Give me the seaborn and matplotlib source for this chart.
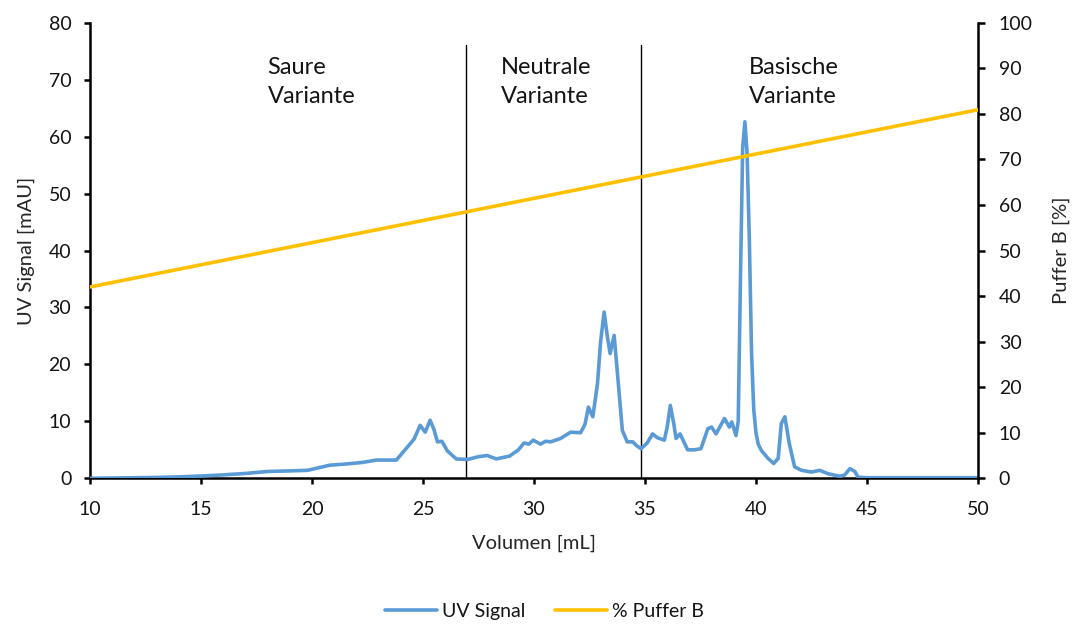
import matplotlib
matplotlib.use("Agg")
import matplotlib.pyplot as plt
import seaborn as sns
import pandas as pd
from matplotlib.lines import Line2D

# ---- data ----
volume_ml = [10, 11, 12, 13, 14, 15, 16, 17, 18, 19,
             19.8, 20.8, 21.5, 22.3, 22.9, 23.3, 23.8, 24.3, 24.6, 24.87,
             25.1, 25.32, 25.5, 25.65, 25.85, 26.1, 26.5, 27.0, 27.5, 27.9,
             28.3, 28.9, 29.3, 29.55, 29.77, 29.96, 30.3, 30.52, 30.75, 31.2,
             31.65, 32.1, 32.3, 32.45, 32.65, 32.86, 33.0, 33.16, 33.3, 33.43,
             33.61, 33.76, 33.98, 34.2, 34.45, 34.6, 34.82, 35.1, 35.34, 35.57,
             35.87, 36.0, 36.14, 36.3, 36.4, 36.58, 36.92, 37.22, 37.52, 37.83,
             38.0, 38.2, 38.58, 38.8, 38.91, 39.1, 39.2, 39.3, 39.4, 39.5,
             39.6, 39.7, 39.8, 39.9, 40.0, 40.1, 40.24, 40.54, 40.8, 41.0, 41.14,
             41.3, 41.5, 41.74, 42.05, 42.5, 42.87, 43.25, 43.78, 44.0, 44.23,
             44.45, 44.6, 45.0, 46, 48, 50]
uv_signal = [0, 0.05, 0.1, 0.15, 0.25, 0.4, 0.6, 0.85, 1.2, 1.3,
             1.4, 2.3, 2.5, 2.8, 3.2, 3.2, 3.2, 5.5, 6.9, 9.3,
             8.1, 10.2, 8.5, 6.4, 6.5, 4.8, 3.4, 3.3, 3.8, 4.0,
             3.4, 3.9, 5.0, 6.2, 6.0, 6.7, 6.0, 6.5, 6.4, 7.0,
             8.1, 8.0, 9.5, 12.5, 10.8, 16.6, 24, 29.2, 25, 21.9,
             25.1, 18.4, 8.4, 6.4, 6.4, 5.8, 5.2, 6.2, 7.8, 7.1,
             6.7, 9.0, 12.8, 9.5, 7.0, 7.8, 5.0, 5.0, 5.2, 8.7,
             9.0, 7.8, 10.5, 9.0, 9.9, 7.5, 10.0, 35, 58, 62.6,
             57, 42, 22, 12, 8.0, 6.0, 4.9, 3.5, 2.6, 3.5, 9.6,
             10.8, 6.1, 2.0, 1.4, 1.1, 1.4, 0.8, 0.35, 0.6, 1.7,
             1.2, 0.2, 0.1, 0.1, 0.1, 0.1]

puffer_volume = [10, 50]
puffer_b = [42.0, 80.9]

fraction_borders = [26.95, 34.8]
fraction_labels = ["Saure\nVariante", "Neutrale\nVariante", "Basische\nVariante"]
fraction_label_x = [18.0, 28.5, 39.7]

x_ticks = [10, 15, 20, 25, 30, 35, 40, 45, 50]
left_ticks = [0, 10, 20, 30, 40, 50, 60, 70, 80]
right_ticks = [0, 10, 20, 30, 40, 50, 60, 70, 80, 90, 100]

# ---- style ----
sns.set_style("white")
plt.rcParams["font.family"] = ["Lato", "DejaVu Sans"]
plt.rcParams["text.color"] = "#141414"

UV_COLOR = "#5B9BD5"
PB_COLOR = "#FFC000"

fig = plt.figure(figsize=(10.74, 6.24), dpi=100)
ax = fig.add_axes([0.0838, 0.2335, 0.9106 - 0.0838, 0.9636 - 0.2335])
ax2 = ax.twinx()

uv_df = pd.DataFrame({"Volumen": volume_ml, "UV": uv_signal})
pb_df = pd.DataFrame({"Volumen": puffer_volume, "PB": puffer_b})

sns.lineplot(data=uv_df, x="Volumen", y="UV", ax=ax, color=UV_COLOR,
             linewidth=2.6, solid_joinstyle="round", solid_capstyle="round",
             zorder=3)
sns.lineplot(data=pb_df, x="Volumen", y="PB", ax=ax2, color=PB_COLOR,
             linewidth=2.6, zorder=3)

ax.set_xlim(10, 50)
ax.set_ylim(0, 80)
ax2.set_ylim(0, 100)
ax.set_xticks(x_ticks)
ax.set_yticks(left_ticks)
ax2.set_yticks(right_ticks)

for b in fraction_borders:
    ax.plot([b, b], [0, 76], color="black", linewidth=1.0, zorder=2)

for lbl, xx in zip(fraction_labels, fraction_label_x):
    ax.text(xx, 69.6, lbl, ha="left", va="center", fontsize=17,
            linespacing=1.5, multialignment="left", color="#141414")

for a in (ax, ax2):
    for s in a.spines.values():
        s.set_visible(False)
    a.grid(False)

ax.spines["left"].set_visible(True)
ax.spines["bottom"].set_visible(True)
ax2.spines["right"].set_visible(True)
for s in (ax.spines["left"], ax.spines["bottom"], ax2.spines["right"]):
    s.set_linewidth(1.8)
    s.set_color("black")

ax.tick_params(axis="x", which="major", bottom=True, direction="out", length=4,
               width=1.8, color="black", pad=12, labelsize=14, labelcolor="#141414")
ax.tick_params(axis="y", which="major", left=True, direction="out", length=4.5,
               width=1.8, color="black", pad=9, labelsize=14, labelcolor="#141414")
ax2.tick_params(axis="y", which="major", right=True, direction="out", length=5,
                width=1.8, color="black", pad=10, labelsize=14, labelcolor="#141414")

ax.set_xlabel("Volumen [mL]", fontsize=14.5, labelpad=12)
ax.set_ylabel("UV Signal [mAU]", fontsize=14.5, labelpad=10)
ax2.set_ylabel("Puffer B [%]", fontsize=14.5, labelpad=14)

handles = [Line2D([0], [0], color=UV_COLOR, linewidth=2.6),
           Line2D([0], [0], color=PB_COLOR, linewidth=2.6)]
fig.legend(handles, ["UV Signal", "% Puffer B"], loc="lower center",
           bbox_to_anchor=(0.507, -0.022), ncol=2, frameon=False, fontsize=14,
           handlelength=2.7, columnspacing=1.5, handletextpad=0.25)

fig.savefig("out.png", dpi=100)
